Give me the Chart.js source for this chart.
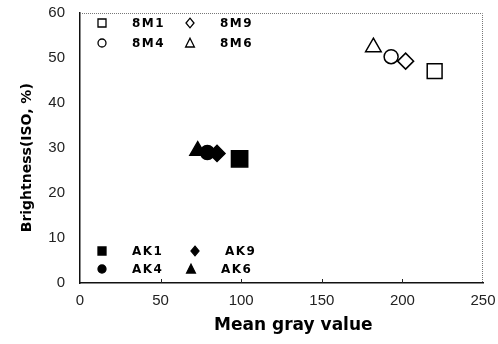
<!DOCTYPE html>
<html>
<head>
<meta charset="utf-8">
<script src="https://cdn.jsdelivr.net/npm/chart.js@4.4.0/dist/chart.umd.min.js"></script>
<style>
  body { margin: 0; background: #fff; }
  #wrap { width: 498px; height: 344px; }
</style>
</head>
<body>
<div id="wrap"><canvas id="chart" width="498" height="344"></canvas></div>
<script>
// Data
const seriesNames = ['8M1', '8M4', '8M9', '8M6', 'AK1', 'AK4', 'AK9', 'AK6'];
const grayValues = [220, 193, 202, 182, 99, 79, 85, 73];
const brightness = [47.1, 50.3, 49.3, 52.4, 27.6, 29.0, 28.8, 29.4];
const xTicks = [0, 50, 100, 150, 200, 250];
const yTicks = [0, 10, 20, 30, 40, 50, 60];

// marker look for each series
const markerStyle = {
    '8M1': { style: 'rect', radius: 10.5, filled: false },
    '8M4': { style: 'circle', radius: 7, filled: false },
    '8M9': { style: 'rectRot', radius: 8, filled: false },
    '8M6': { style: 'triangle', radius: 9, filled: false },
    'AK1': { style: 'rect', radius: 11.5, filled: true },
    'AK4': { style: 'circle', radius: 7, filled: true },
    'AK9': { style: 'rectRot', radius: 8, filled: true },
    'AK6': { style: 'triangle', radius: 9, filled: true }
};

const datasets = seriesNames.map((name, i) => {
    const m = markerStyle[name];
    return {
        label: name,
        data: [{ x: grayValues[i], y: brightness[i] }],
        pointStyle: m.style,
        pointRadius: m.radius,
        pointHoverRadius: m.radius,
        borderColor: '#000',
        borderWidth: 1.5,
        backgroundColor: m.filled ? '#000' : 'rgba(0,0,0,0)'
    };
});

// small legend marks drawn by hand
function drawMark(ctx, style, filled, x, y, s) {
    ctx.save();
    ctx.beginPath();
    if (style === 'rect') {
        ctx.rect(x - s, y - s, 2 * s, 2 * s);
    } else if (style === 'circle') {
        ctx.arc(x, y, s, 0, Math.PI * 2);
    } else if (style === 'rectRot') {
        ctx.moveTo(x, y - s * 1.2);
        ctx.lineTo(x + s, y);
        ctx.lineTo(x, y + s * 1.2);
        ctx.lineTo(x - s, y);
        ctx.closePath();
    } else if (style === 'triangle') {
        ctx.moveTo(x, y - s * 1.2);
        ctx.lineTo(x + s * 1.1, y + s);
        ctx.lineTo(x - s * 1.1, y + s);
        ctx.closePath();
    }
    ctx.lineWidth = 1.3;
    ctx.strokeStyle = '#000';
    if (filled) {
        ctx.fillStyle = '#000';
        ctx.fill();
    }
    ctx.stroke();
    ctx.restore();
}

const legendPlugin = {
    id: 'insideLegend',
    afterDraw(chart) {
        const ctx = chart.ctx;
        const area = chart.chartArea;

        // light dotted frame on top and right
        ctx.save();
        ctx.strokeStyle = '#777';
        ctx.lineWidth = 1;
        ctx.setLineDash([1, 1]);
        ctx.beginPath();
        ctx.moveTo(area.left, area.top + 0.5);
        ctx.lineTo(area.right - 0.5, area.top + 0.5);
        ctx.lineTo(area.right - 0.5, area.bottom);
        ctx.stroke();
        ctx.restore();

        // inward tick marks on x axis
        const xs = chart.scales.x;
        ctx.save();
        ctx.strokeStyle = '#222';
        ctx.lineWidth = 1;
        xTicks.slice(1, -1).forEach(v => {
            const px = Math.round(xs.getPixelForValue(v)) + 0.5;
            ctx.beginPath();
            ctx.moveTo(px, area.bottom);
            ctx.lineTo(px, area.bottom - 4);
            ctx.stroke();
        });
        ctx.restore();

        // two legend blocks inside the plot
        const rows = [
            [['8M1', 102, 23], ['8M9', 190, 23]],
            [['8M4', 102, 43], ['8M6', 190, 43]],
            [['AK1', 102, 251], ['AK9', 195, 251]],
            [['AK4', 102, 269], ['AK6', 191, 269]]
        ];
        ctx.save();
        ctx.font = 'bold 12px "DejaVu Sans", sans-serif';
        ctx.letterSpacing = '1.5px';
        ctx.fillStyle = '#000';
        ctx.textBaseline = 'middle';
        rows.forEach(row => {
            row.forEach(([name, mx, my]) => {
                const m = markerStyle[name];
                drawMark(ctx, m.style, m.filled, mx, my, 4);
                ctx.fillText(name, mx + 30, my + 0.5);
            });
        });
        ctx.restore();
    }
};

new Chart(document.getElementById('chart').getContext('2d'), {
    type: 'scatter',
    data: { datasets: datasets },
    options: {
        responsive: false,
        animation: false,
        layout: { padding: { top: 12, right: 15, left: 0, bottom: 0 } },
        plugins: {
            legend: { display: false },
            tooltip: { enabled: false }
        },
        scales: {
            x: {
                min: 0,
                max: 250,
                afterBuildTicks: scale => { scale.ticks = xTicks.map(v => ({ value: v })); },
                afterFit: scale => {
                    scale.height = 61;
                    scale.paddingLeft = 0;
                    scale.paddingRight = 0;
                },
                grid: { display: false, drawTicks: false },
                border: { display: true, color: '#111', width: 1.5 },
                ticks: {
                    padding: 9,
                    color: '#222',
                    maxRotation: 0,
                    font: { family: '"Liberation Sans", Arial, sans-serif', size: 15 }
                },
                title: {
                    display: true,
                    text: '    Mean gray value',
                    color: '#000',
                    padding: { top: 0, bottom: 8 },
                    font: { family: '"DejaVu Sans", sans-serif', size: 17, weight: 'bold' }
                }
            },
            y: {
                min: 0,
                max: 60,
                afterBuildTicks: scale => { scale.ticks = yTicks.map(v => ({ value: v })); },
                afterFit: scale => {
                    scale.width = 80;
                    scale.paddingTop = 0;
                    scale.paddingBottom = 0;
                },
                grid: { display: false, drawTicks: false },
                border: { display: true, color: '#111', width: 1.5 },
                ticks: {
                    padding: 15,
                    color: '#222',
                    font: { family: '"Liberation Sans", Arial, sans-serif', size: 15 }
                },
                title: {
                    display: true,
                    text: 'Brightness(ISO, %)    ',
                    color: '#000',
                    padding: { top: 19, bottom: 0 },
                    font: { family: '"DejaVu Sans", sans-serif', size: 14, weight: 'bold' }
                }
            }
        }
    },
    plugins: [legendPlugin]
});
</script>
</body>
</html>
